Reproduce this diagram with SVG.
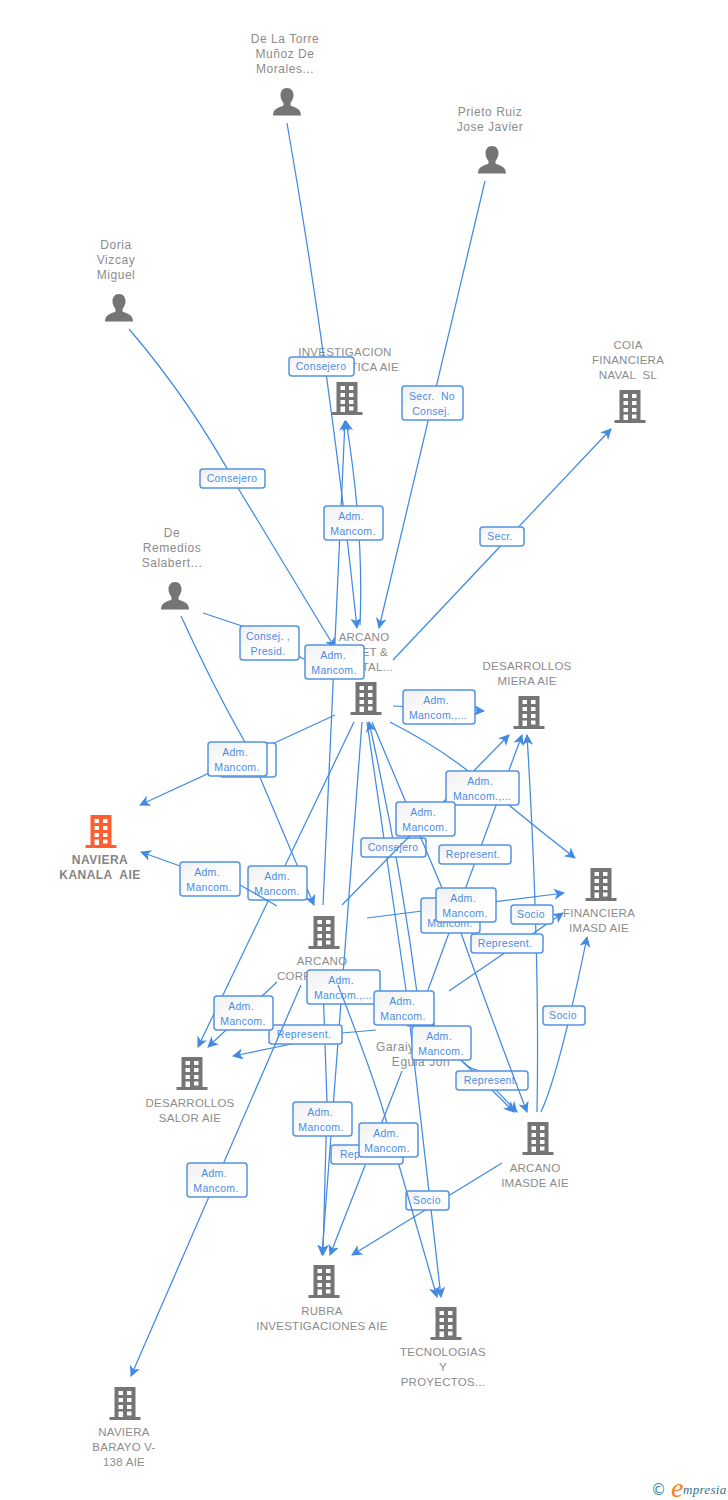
<svg xmlns="http://www.w3.org/2000/svg" width="728" height="1500" viewBox="0 0 728 1500">
<style>
.c{fill:none;stroke:#428ae2;stroke-width:1.25;marker-end:url(#a)}
.b{fill:url(#g);stroke:#5492e4;stroke-width:1.5}
.t{font:10.5px "Liberation Sans",Arial,sans-serif;fill:#4a8de2;text-anchor:middle;letter-spacing:.3px;white-space:pre}
.m{font:11.5px "Liberation Sans",Arial,sans-serif;fill:#8c8c8c;text-anchor:middle;letter-spacing:.25px;white-space:pre}
.p{font:12px "Liberation Sans",Arial,sans-serif;fill:#8c8c8c;text-anchor:middle;letter-spacing:.55px}
.k{font:bold 12px "Liberation Sans",Arial,sans-serif;fill:#858585;text-anchor:middle;letter-spacing:.45px;white-space:pre}
</style>
<defs>
<linearGradient id="g" x1="0" y1="0" x2="1" y2="1"><stop offset="0" stop-color="#f0f0f0"/><stop offset=".6" stop-color="#fff"/></linearGradient>
<marker id="a" markerUnits="userSpaceOnUse" markerWidth="12" markerHeight="12" refX="10" refY="5.5" orient="auto"><path d="M0,0 L11,5.5 L0,11 L3,5.5z" fill="#428ae2"/></marker>
<path id="bld" fill-rule="evenodd" d="M-10.500,-16H10.500V14H15.500V17H-15.500V14H-10.500ZM-6.500,-12V-8H-2V-12ZM2,-12V-8H6.500V-12ZM-6.500,-5V-1H-2V-5ZM2,-5V-1H6.500V-5ZM-6.500,2V6H-2V2ZM2,2V6H6.500V2ZM-6.500,8.500V14H-2V8.500ZM2,8.500V12.500H6.500V8.500Z"/>
<path id="per" d="M0,-14C4.500,-14 6.500,-10.500 6.500,-7C6.500,-3.500 5,-1 3.500,1V3.500C7,5.500 14,6 14,13.500H-14C-14,6 -7,5.500 -3.500,3.500V1C-5,-1 -6.500,-3.500 -6.500,-7C-6.500,-10.500 -4.500,-14 0,-14Z"/>
</defs>
<rect width="728" height="1500" fill="#fff"/>

<g id="person-de-la-torre"><use href="#per" x="287" y="102" fill="#757575"/><text class="p"><tspan x="285" y="43">De La Torre</tspan><tspan x="285" y="58">Muñoz De</tspan><tspan x="285" y="73">Morales...</tspan></text></g>
<g id="person-prieto"><use href="#per" x="492" y="160" fill="#757575"/><text class="p"><tspan x="490" y="116">Prieto Ruiz</tspan><tspan x="490" y="131">Jose Javier</tspan></text></g>
<g id="person-doria"><use href="#per" x="119" y="308" fill="#757575"/><text class="p"><tspan x="116" y="249">Doria</tspan><tspan x="116" y="264">Vizcay</tspan><tspan x="116" y="279">Miguel</tspan></text></g>
<g id="person-remedios"><use href="#per" x="175" y="596" fill="#757575"/><text class="p"><tspan x="172" y="537">De</tspan><tspan x="172" y="552">Remedios</tspan><tspan x="172" y="567">Salabert...</tspan></text></g>
<g id="person-garaiy"><use href="#per" x="421" y="1013" fill="#757575"/><text class="p"><tspan x="376" y="1051" text-anchor="start">Garaiy</tspan><tspan x="421" y="1066">Eguia Jon</tspan></text></g>
<g id="company-coia"><use href="#bld" x="630" y="406" fill="#757575"/><text class="m"><tspan x="628" y="349">COIA</tspan><tspan x="628" y="364">FINANCIERA</tspan><tspan x="628" y="379">NAVAL  SL</tspan></text></g>
<g id="company-investigacion"><use href="#bld" x="347" y="398" fill="#757575"/><text class="m"><tspan x="345" y="356">INVESTIGACION</tspan><tspan x="399" y="371" text-anchor="end">TICA AIE</tspan></text></g>
<g id="company-arcano-asset"><use href="#bld" x="366" y="698" fill="#757575"/><text class="m"><tspan x="364" y="641">ARCANO</tspan><tspan x="388" y="656" text-anchor="end">ET &amp;</tspan><tspan x="393" y="671" text-anchor="end">TAL...</tspan></text></g>
<g id="company-miera"><use href="#bld" x="529" y="712" fill="#757575"/><text class="m"><tspan x="527" y="670">DESARROLLOS</tspan><tspan x="527" y="685">MIERA AIE</tspan></text></g>
<g id="company-kanala"><use href="#bld" x="101" y="831" fill="#ff5e30"/><text class="k"><tspan x="100" y="864">NAVIERA</tspan><tspan x="100" y="879">KANALA  AIE</tspan></text></g>
<g id="company-financiera"><use href="#bld" x="601" y="884" fill="#757575"/><text class="m"><tspan x="599" y="917">FINANCIERA</tspan><tspan x="599" y="932">IMASD AIE</tspan></text></g>
<g id="company-arcano-corp"><use href="#bld" x="324" y="932" fill="#757575"/><text class="m"><tspan x="322" y="965">ARCANO</tspan><tspan x="277" y="980" text-anchor="start">CORP</tspan></text></g>
<g id="company-salor"><use href="#bld" x="192" y="1073" fill="#757575"/><text class="m"><tspan x="190" y="1107">DESARROLLOS</tspan><tspan x="190" y="1122">SALOR AIE</tspan></text></g>
<g id="company-imasde"><use href="#bld" x="538" y="1138" fill="#757575"/><text class="m"><tspan x="535" y="1172">ARCANO</tspan><tspan x="535" y="1187">IMASDE AIE</tspan></text></g>
<g id="company-rubra"><use href="#bld" x="324" y="1281" fill="#757575"/><text class="m"><tspan x="322" y="1315">RUBRA</tspan><tspan x="322" y="1330">INVESTIGACIONES AIE</tspan></text></g>
<g id="company-tecnologias"><use href="#bld" x="446" y="1323" fill="#757575"/><text class="m"><tspan x="443" y="1356">TECNOLOGIAS</tspan><tspan x="443" y="1371">Y</tspan><tspan x="443" y="1386">PROYECTOS...</tspan></text></g>
<g id="company-barayo"><use href="#bld" x="125" y="1403" fill="#757575"/><text class="m"><tspan x="124" y="1436">NAVIERA</tspan><tspan x="124" y="1451">BARAYO V-</tspan><tspan x="124" y="1466">138 AIE</tspan></text></g>

<g id="connectors">
<path class="c" d="M287,123Q330,370 357,628"/>
<path class="c" d="M485,181L379,628"/>
<path class="c" d="M129,329Q190,400 238,488L335,648"/>
<path class="c" d="M323,905Q335,650 345,421"/>
<path class="c" d="M360,625Q364,530 346,421"/>
<path class="c" d="M203,613L242,626L304,659L336,650"/>
<path class="c" d="M181,616Q215,690 245,742L314,905"/>
<path class="c" d="M393,660L611,429"/>
<path class="c" d="M393,706L484,711"/>
<path class="c" d="M335,715L140,805"/>
<path class="c" d="M354,722L198,1047"/>
<path class="c" d="M277,982L208,1047"/>
<path class="c" d="M323,985L327,1102L323,1255"/>
<path class="c" d="M362,722L322,1255"/>
<path class="c" d="M390,722Q435,745 468,771Q520,815 575,858"/>
<path class="c" d="M367,722L406,990L441,1297"/>
<path class="c" d="M418,1000Q400,860 369,722"/>
<path class="c" d="M402,1071L330,1255"/>
<path class="c" d="M376,1030L342,1033L287,1045L233,1056"/>
<path class="c" d="M428,990L522,735"/>
<path class="c" d="M449,991L563,913"/>
<path class="c" d="M367,918L564,893"/>
<path class="c" d="M537,1112Q540,950 527,735"/>
<path class="c" d="M541,1112Q560,1070 587,937"/>
<path class="c" d="M502,1163L352,1255"/>
<path class="c" d="M440,1040L463,1062Q470,1069 477,1070L517,1112"/>
<path class="c" d="M440,1040L463,1062L492,1090L514,1112"/>
</g>

<g id="labels-lower">
<g id="l-adm-salor-line"><rect class="b" x="248" y="866" width="59" height="34" rx="3"/><text class="t"><tspan x="277" y="880">Adm.</tspan><tspan x="277" y="895">Mancom.</tspan></text></g>
<g id="l-consejero-3"><rect class="b" x="361" y="838" width="65" height="19" rx="3"/><text class="t" x="393" y="851">Consejero</text></g>
<g id="l-represent-salor"><rect class="b" x="269" y="1025" width="73" height="19" rx="3"/><text class="t" x="304" y="1038">Represent.</text></g>
<g id="l-socio-rubra"><rect class="b" x="406" y="1191" width="43" height="19" rx="3"/><text class="t" x="427" y="1204">Socio</text></g>
<g id="l-represent-imasde"><rect class="b" x="456" y="1071" width="72" height="19" rx="3"/><text class="t" x="491" y="1084">Represent.</text></g>
<g id="l-adm-corp-tec"><rect class="b" x="307" y="970" width="73" height="34" rx="3"/><text class="t"><tspan x="341" y="984">Adm.</tspan><tspan x="343" y="999">Mancom.,...</tspan></text></g>
</g>

<g id="connectors-upper">
<path class="c" d="M277,906L240,885L180,866L141,852"/>
<path class="c" d="M342,905L509,735"/>
<path class="c" d="M301,985L131,1376"/>
<path class="c" d="M338,985Q375,1080 386,1120Q400,1170 437,1297"/>
<path class="c" d="M372,722Q430,860 461,933Q490,1015 527,1112"/>
</g>

<g id="labels">
<g id="l-consejero-1"><rect class="b" x="289" y="357" width="65" height="19" rx="3"/><text class="t" x="321" y="370">Consejero</text></g>
<g id="l-secr-no"><rect class="b" x="402" y="386" width="61" height="34" rx="3"/><text class="t"><tspan x="432" y="400">Secr.  No</tspan><tspan x="431" y="415">Consej.</tspan></text></g>
<g id="l-consejero-2"><rect class="b" x="200" y="469" width="65" height="19" rx="3"/><text class="t" x="232" y="482">Consejero</text></g>
<g id="l-adm-1"><rect class="b" x="324" y="506" width="59" height="34" rx="3"/><text class="t"><tspan x="351" y="520">Adm.</tspan><tspan x="353" y="535">Mancom.</tspan></text></g>
<g id="l-secr"><rect class="b" x="480" y="527" width="44" height="19" rx="3"/><text class="t" x="500" y="540">Secr.</text></g>
<g id="l-consej-presid"><rect class="b" x="240" y="626" width="59" height="34" rx="3"/><text class="t"><tspan x="268" y="640">Consej. ,</tspan><tspan x="268" y="655">Presid.</tspan></text></g>
<g id="l-adm-2"><rect class="b" x="305" y="645" width="59" height="34" rx="3"/><text class="t"><tspan x="333" y="659">Adm.</tspan><tspan x="334" y="674">Mancom.</tspan></text></g>
<g id="l-adm-3"><rect class="b" x="403" y="690" width="72" height="34" rx="3"/><text class="t"><tspan x="436" y="704">Adm.</tspan><tspan x="438" y="719">Mancom.,...</tspan></text></g>
<g id="l-back-kanala"><rect class="b" x="220" y="743" width="56" height="34" rx="3"/></g>
<g id="l-adm-4"><rect class="b" x="208" y="742" width="59" height="34" rx="3"/><text class="t"><tspan x="235" y="756">Adm.</tspan><tspan x="237" y="771">Mancom.</tspan></text></g>
<g id="l-adm-5"><rect class="b" x="446" y="771" width="73" height="34" rx="3"/><text class="t"><tspan x="480" y="785">Adm.</tspan><tspan x="482" y="800">Mancom.,...</tspan></text></g>
<g id="l-adm-6"><rect class="b" x="396" y="802" width="59" height="34" rx="3"/><text class="t"><tspan x="423" y="816">Adm.</tspan><tspan x="425" y="831">Mancom.</tspan></text></g>
<g id="l-represent-1"><rect class="b" x="439" y="845" width="72" height="19" rx="3"/><text class="t" x="473" y="858">Represent.</text></g>
<g id="l-adm-7"><rect class="b" x="180" y="862" width="60" height="34" rx="3"/><text class="t"><tspan x="207" y="876">Adm.</tspan><tspan x="209" y="891">Mancom.</tspan></text></g>
<g id="l-adm-8"><rect class="b" x="421" y="898" width="59" height="35" rx="3"/><text class="t"><tspan x="450" y="927">Mancom.</tspan></text></g>
<g id="l-adm-9"><rect class="b" x="436" y="888" width="60" height="34" rx="3"/><text class="t"><tspan x="463" y="902">Adm.</tspan><tspan x="465" y="917">Mancom.</tspan></text></g>
<g id="l-socio-1"><rect class="b" x="511" y="905" width="42" height="19" rx="3"/><text class="t" x="531" y="918">Socio</text></g>
<g id="l-represent-2"><rect class="b" x="471" y="934" width="72" height="19" rx="3"/><text class="t" x="505" y="947">Represent.</text></g>
<g id="l-adm-10"><rect class="b" x="214" y="996" width="59" height="34" rx="3"/><text class="t"><tspan x="241" y="1010">Adm.</tspan><tspan x="243" y="1025">Mancom.</tspan></text></g>
<g id="l-adm-11"><rect class="b" x="374" y="991" width="60" height="34" rx="3"/><text class="t"><tspan x="402" y="1005">Adm.</tspan><tspan x="403" y="1020">Mancom.</tspan></text></g>
<g id="l-socio-2"><rect class="b" x="543" y="1006" width="42" height="19" rx="3"/><text class="t" x="563" y="1019">Socio</text></g>
<g id="l-adm-12"><rect class="b" x="412" y="1026" width="59" height="34" rx="3"/><text class="t"><tspan x="439" y="1040">Adm.</tspan><tspan x="441" y="1055">Mancom.</tspan></text></g>
<g id="l-adm-13"><rect class="b" x="293" y="1102" width="59" height="34" rx="3"/><text class="t"><tspan x="320" y="1116">Adm.</tspan><tspan x="321" y="1131">Mancom.</tspan></text></g>
<g id="l-represent-3"><rect class="b" x="331" y="1145" width="72" height="19" rx="3"/><text class="t"><tspan x="350" y="1158">Rep</tspan></text></g>
<g id="l-adm-14"><rect class="b" x="359" y="1123" width="59" height="34" rx="3"/><text class="t"><tspan x="386" y="1137">Adm.</tspan><tspan x="387" y="1152">Mancom.</tspan></text></g>
<g id="l-adm-15"><rect class="b" x="187" y="1163" width="60" height="34" rx="3"/><text class="t"><tspan x="214" y="1177">Adm.</tspan><tspan x="216" y="1192">Mancom.</tspan></text></g>
</g>

<g id="logo">
<text x="651" y="1495" font-family="'DejaVu Sans',sans-serif" font-size="15" fill="#3b7c99">©</text>
<text x="671" y="1497" font-family="'Liberation Serif',serif" font-style="italic" font-size="28" fill="#f58220">e</text>
<text x="683" y="1494" font-family="'Liberation Serif',serif" font-style="italic" font-size="13" fill="#2f7490" letter-spacing=".3">mpresia</text>
</g>
</svg>
